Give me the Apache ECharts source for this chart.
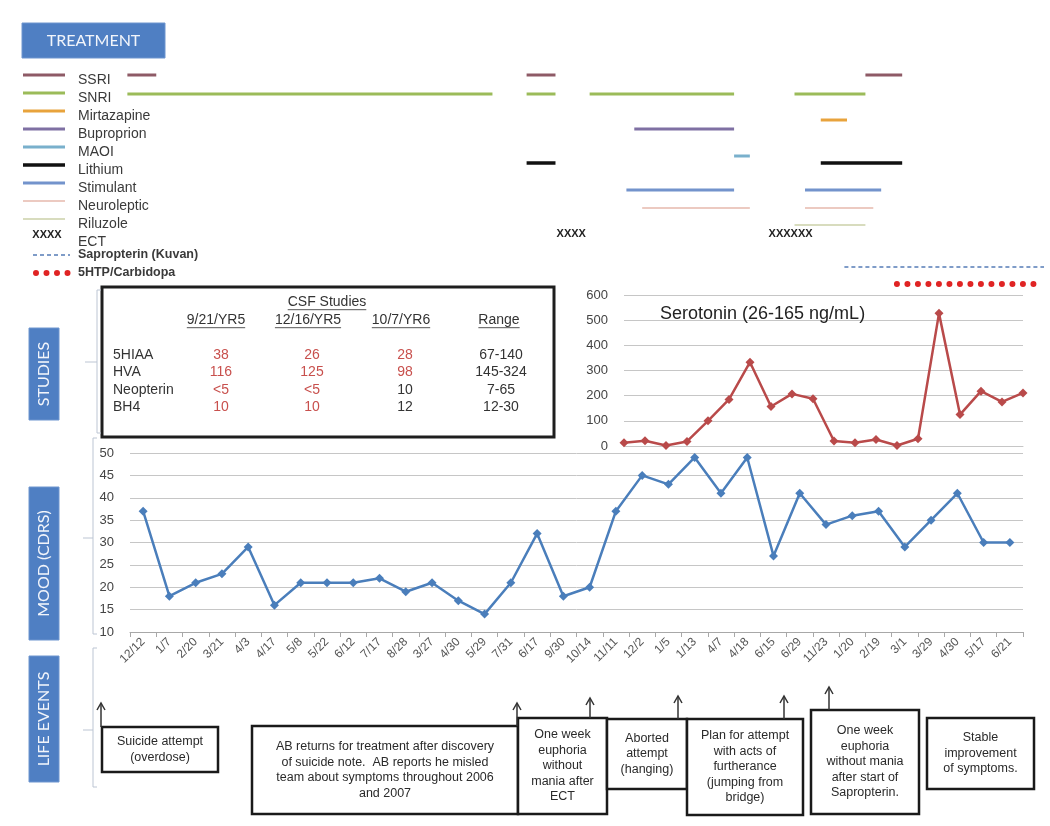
<!DOCTYPE html>
<html>
<head>
<meta charset="utf-8">
<title>Treatment, CSF studies, mood and life events</title>
<script src="https://cdn.jsdelivr.net/npm/echarts@6/dist/echarts.min.js"></script>
<style>
  html, body { margin: 0; padding: 0; background: #fff; }
  #chart { width: 1050px; height: 826px; }
</style>
</head>
<body>
<div id="chart"></div>
<script>
// ---- mood (CDRS) visits ----
const visitDates = ['12/12', '1/7', '2/20', '3/21', '4/3', '4/17', '5/8', '5/22', '6/12', '7/17', '8/28', '3/27', '4/30', '5/29', '7/31', '6/17', '9/30', '10/14', '11/11', '12/2', '1/5', '1/13', '4/7', '4/18', '6/15', '6/29', '11/23', '1/20', '2/19', '3/1', '3/29', '4/30', '5/17', '6/21']
const moodScores = [37, 18, 21, 23, 29, 16, 21, 21, 21, 22, 19, 21, 17, 14, 21, 32, 18, 20, 37, 45, 43, 49, 41, 49, 27, 41, 34, 36, 37, 29, 35, 41, 30, 30]
const moodRange = [10, 50]
const moodStep = 5

// ---- serotonin draws ----
const serotoninDraws = ['S1', 'S2', 'S3', 'S4', 'S5', 'S6', 'S7', 'S8', 'S9', 'S10', 'S11', 'S12', 'S13', 'S14', 'S15', 'S16', 'S17', 'S18', 'S19', 'S20']
const serotoninLevels = [13, 21, 2, 18, 100, 185, 333, 157, 207, 188, 20, 13, 26, 2, 29, 527, 125, 218, 175, 211]
const serotoninRange = [0, 600]
const serotoninStep = 100
const serotoninTitle = 'Serotonin (26-165 ng/mL)'

// ---- treatments: periods in units of visit index ----
const treatmentNames = ['SSRI', 'SNRI', 'Mirtazapine', 'Buproprion', 'MAOI', 'Lithium', 'Stimulant', 'Neuroleptic', 'Riluzole', 'ECT', 'Sapropterin (Kuvan)', '5HTP/Carbidopa']
const ssriOn = [[-0.6, 0.5], [14.6, 15.7], [27.5, 28.9]]
const snriOn = [[-0.6, 13.3], [14.6, 15.7], [17.0, 22.5], [24.8, 27.5]]
const mirtazapineOn = [[25.8, 26.8]]
const buproprionOn = [[18.7, 22.5]]
const maoiOn = [[22.5, 23.1]]
const lithiumOn = [[14.6, 15.7], [25.8, 28.9]]
const stimulantOn = [[18.4, 22.5], [25.2, 28.1]]
const neurolepticOn = [[19.0, 23.1], [25.2, 27.8]]
const riluzoleOn = [[24.8, 27.5]]
const ectOn = [[15.7, 16.9], [24.3, 25.0]]
const ectMarks = ['XXXX', 'XXXXXX']
const sapropterinOn = [[26.7, 34.3]]
const htpOn = [[28.7, 34.2]]
const treatmentPeriods = [ssriOn, snriOn, mirtazapineOn, buproprionOn, maoiOn, lithiumOn, stimulantOn, neurolepticOn, riluzoleOn, ectOn, sapropterinOn, htpOn]

// ---- CSF studies ----
const csfDates = ['9/21/YR5', '12/16/YR5', '10/7/YR6']
const csfAnalytes = ['5HIAA', 'HVA', 'Neopterin', 'BH4']
const csf5hiaa = ['38', '26', '28']
const csfHva = ['116', '125', '98']
const csfNeopterin = ['<5', '<5', '10']
const csfBh4 = ['10', '10', '12']
const csfRanges = ['67-140', '145-324', '7-65', '12-30']
const csfValues = [csf5hiaa, csfHva, csfNeopterin, csfBh4]

// ---- life events ----
const lifeEvents = [
  'Suicide attempt\n(overdose)',
  'AB returns for treatment after discovery\nof suicide note.  AB reports he misled\nteam about symptoms throughout 2006\nand 2007',
  'One week\neuphoria\nwithout\nmania after\nECT',
  'Aborted\nattempt\n(hanging)',
  'Plan for attempt\nwith acts of\nfurtherance\n(jumping from\nbridge)',
  'One week\neuphoria\nwithout mania\nafter start of\nSapropterin.',
  'Stable\nimprovement\nof symptoms.'
]
const sectionTitles = ['TREATMENT', 'STUDIES', 'MOOD (CDRS)', 'LIFE EVENTS']

// ---- styling / layout ----
const FONT = '"Liberation Sans", Arial, sans-serif'
const BOXFONT = 'Lato, "Open Sans", sans-serif'
const treatmentColors = ['#8e5a66', '#9bbb59', '#e8a33c', '#7f70a3', '#79b0cc', '#111111', '#7393cc', '#e6b9ad', '#cbd1a9', '#222222', '#7f9cc8', '#e02424']
const treatmentWidths = [3, 3, 3, 3, 3, 3.5, 3, 1.5, 1.5, 0, 2, 6]
const treatmentDash = [null, null, null, null, null, null, null, null, null, null, [4, 3], [0, 10.5]]
// bars in the source sit a little below their legend row for some drugs (px)
const treatmentBarShift = [0, 1, 9, 0, 9, -2, 7, 7, 6, -3, 12, 11]
const ECT_ROW = 9
const rowTop = 75
const rowGap = 18

const sectionBoxes = [
  { x: 22, y: 23, w: 143, h: 35, rot: 0 },
  { x: 29, y: 328, w: 30, h: 92, rot: Math.PI / 2 },
  { x: 29, y: 487, w: 30, h: 153, rot: Math.PI / 2 },
  { x: 29, y: 656, w: 30, h: 126, rot: Math.PI / 2 }
]
const eventBoxes = [
  { x: 102, y: 727, w: 116, h: 45 },
  { x: 252, y: 726, w: 266, h: 88 },
  { x: 518, y: 718, w: 89, h: 96 },
  { x: 607, y: 719, w: 80, h: 70 },
  { x: 687, y: 719, w: 116, h: 96 },
  { x: 811, y: 710, w: 108, h: 104 },
  { x: 927, y: 718, w: 107, h: 71 }
]
const eventArrows = [
  { x: 101, top: 703, base: 727 },
  { x: 517, top: 703, base: 726 },
  { x: 590, top: 698, base: 718 },
  { x: 678, top: 696, base: 719 },
  { x: 784, top: 696, base: 719 },
  { x: 829, top: 687, base: 710 }
]

const measureCtx = document.createElement('canvas').getContext('2d')
function textWidth (str, font) {
  measureCtx.font = font
  return measureCtx.measureText(str).width
}

const graphics = []
function text (x, y, str, o) {
  o = o || {}
  graphics.push({
    type: 'text',
    x: x,
    y: y,
    rotation: o.rotation || 0,
    z: 20,
    silent: true,
    style: {
      text: str,
      fill: o.color || '#333',
      fontSize: o.size || 14,
      fontFamily: o.family || FONT,
      fontWeight: o.weight || 'normal',
      lineHeight: o.lineHeight,
      textAlign: o.align || 'left',
      textVerticalAlign: 'middle'
    }
  })
}
function line (x1, y1, x2, y2, color, width, dash, cap) {
  graphics.push({
    type: 'line',
    z: 20,
    silent: true,
    shape: { x1: x1, y1: y1, x2: x2, y2: y2 },
    style: { stroke: color, lineWidth: width, lineDash: dash || null, lineCap: cap || 'butt' }
  })
}
function polyline (points, color, width) {
  graphics.push({
    type: 'polyline',
    z: 20,
    silent: true,
    shape: { points: points },
    style: { stroke: color, lineWidth: width, fill: null }
  })
}
function rect (x, y, w, h, fill, stroke, width) {
  graphics.push({
    type: 'rect',
    z: 15,
    silent: true,
    shape: { x: x, y: y, width: w, height: h },
    style: { fill: fill, stroke: stroke || null, lineWidth: width || 0 }
  })
}

// section labels
sectionTitles.forEach(function (t, i) {
  const b = sectionBoxes[i]
  rect(b.x, b.y, b.w, b.h, '#4f7fc3', '#6f96cf', 1)
  text(b.x + b.w / 2, b.y + b.h / 2, t, { color: '#f2f5fb', size: 16, family: BOXFONT, align: 'center', rotation: b.rot })
})

// brackets on the left of each panel
const bracketColor = '#bcc5d3'
polyline([[101, 290], [97, 290], [97, 433], [101, 433]], bracketColor, 1)
line(85, 362, 97, 362, bracketColor, 1)
polyline([[97, 438], [93, 438], [93, 634], [97, 634]], bracketColor, 1)
line(83, 538, 93, 538, bracketColor, 1)
polyline([[97, 648], [93, 648], [93, 787], [97, 787]], bracketColor, 1)
line(83, 730, 93, 730, bracketColor, 1)

// treatment legend
treatmentNames.forEach(function (name, i) {
  const y = rowTop + rowGap * i
  const c = treatmentColors[i]
  if (i === ECT_ROW) {
    text(47, y - 2, ectMarks[0], { size: 11, weight: 'bold', color: '#222', align: 'center' })
  } else if (i === 10) {
    line(33, y, 70, y, c, 2, [4, 3])
  } else if (i === 11) {
    line(36, y, 70, y, c, 6, [0, 10.5], 'round')
  } else {
    line(23, y, 65, y, c, treatmentWidths[i])
  }
  const bold = i >= 10
  text(78, bold ? y : y + 5, name, { size: bold ? 12.5 : 14, weight: bold ? 'bold' : 'normal', color: '#3a3a3a' })
})

// CSF studies table
rect(102, 287, 452, 150, '#ffffff', '#1e1e1e', 3)
function underlined (cx, y, str, size) {
  const f = size + 'px ' + FONT
  const w = textWidth(str, f)
  text(cx, y, str, { size: size, align: 'center', color: '#333' })
  line(cx - w / 2, y + size * 0.55, cx + w / 2, y + size * 0.55, '#555', 1)
}
underlined(327, 302, 'CSF Studies', 14)
const headerX = [216, 308, 401]
csfDates.forEach(function (d, j) { underlined(headerX[j], 320, d, 14) })
underlined(499, 320, 'Range', 14)
const rowY = [355, 372, 390, 407]
const valueX = [221, 312, 405]
csfAnalytes.forEach(function (a, r) {
  text(113, rowY[r], a, { size: 14, color: '#333' })
  const low = parseFloat(csfRanges[r].split('-')[0])
  csfValues[r].forEach(function (v, j) {
    const num = parseFloat(v.replace('<', ''))
    const isLow = v.indexOf('<') === 0 || num < low
    text(valueX[j], rowY[r], v, { size: 14, align: 'center', color: isLow ? '#c8504d' : '#333' })
  })
  text(501, rowY[r], csfRanges[r], { size: 14, align: 'center', color: '#333' })
})

// life events
eventBoxes.forEach(function (b, i) {
  rect(b.x, b.y, b.w, b.h, '#ffffff', '#1a1a1a', 2.5)
  text(b.x + b.w / 2, b.y + b.h / 2, lifeEvents[i], { size: 12.5, lineHeight: 15.5, align: 'center', color: '#2a2a2a' })
})
eventArrows.forEach(function (a) {
  line(a.x, a.base, a.x, a.top, '#333', 1.5)
  polyline([[a.x - 4, a.top + 7], [a.x, a.top], [a.x + 4, a.top + 7]], '#333', 1.5)
})

// treatment periods -> custom series data [row, start, end, k]
const treatmentData = []
treatmentPeriods.forEach(function (periods, row) {
  periods.forEach(function (p, k) { treatmentData.push([row, p[0], p[1], k]) })
})

function renderTreatment (params, api) {
  const row = api.value(0)
  const a = api.coord([api.value(1), row])
  const b = api.coord([api.value(2), row])
  const y = a[1] + treatmentBarShift[row]
  if (row === ECT_ROW) {
    return {
      type: 'text',
      x: (a[0] + b[0]) / 2,
      y: y,
      style: { text: ectMarks[api.value(3)], fill: '#222', fontSize: 11, fontWeight: 'bold', fontFamily: FONT, textAlign: 'center', textVerticalAlign: 'middle' }
    }
  }
  return {
    type: 'line',
    shape: { x1: a[0], y1: y, x2: b[0], y2: y },
    style: {
      stroke: treatmentColors[row],
      lineWidth: treatmentWidths[row],
      lineDash: treatmentDash[row],
      lineCap: row === 11 ? 'round' : 'butt'
    }
  }
}

const gridLine = { show: true, lineStyle: { color: '#c6c6c6', width: 1 } }

const chart = echarts.init(document.getElementById('chart'))
chart.setOption({
  animation: false,
  backgroundColor: '#ffffff',
  textStyle: { fontFamily: FONT },
  title: {
    text: serotoninTitle,
    left: 655,
    top: 300,
    textStyle: { fontSize: 18, fontWeight: 'normal', color: '#222', fontFamily: FONT }
  },
  grid: [
    { left: 130, right: 27, top: 66, height: 216 },
    { left: 130, right: 27, top: 453, bottom: 194 },
    { left: 624, right: 27, top: 295, height: 151 }
  ],
  xAxis: [
    { gridIndex: 0, type: 'value', min: -0.5, max: 33.5, show: false },
    {
      gridIndex: 1,
      type: 'category',
      data: visitDates,
      boundaryGap: true,
      axisLine: { lineStyle: { color: '#a8a8a8' } },
      axisTick: { show: true, interval: 0, length: 5, lineStyle: { color: '#a8a8a8' } },
      axisLabel: { interval: 0, rotate: 45, margin: 8, fontSize: 12, color: '#555', fontFamily: FONT }
    },
    {
      gridIndex: 2,
      type: 'category',
      data: serotoninDraws,
      boundaryGap: false,
      axisLine: { lineStyle: { color: '#c6c6c6' } },
      axisTick: { show: false },
      axisLabel: { show: false }
    }
  ],
  yAxis: [
    { gridIndex: 0, type: 'category', data: treatmentNames, inverse: true, show: false },
    {
      gridIndex: 1,
      type: 'value',
      min: moodRange[0],
      max: moodRange[1],
      interval: moodStep,
      axisLine: { show: false },
      axisTick: { show: false },
      axisLabel: { margin: 16, fontSize: 13, color: '#444', fontFamily: FONT },
      splitLine: gridLine
    },
    {
      gridIndex: 2,
      type: 'value',
      min: serotoninRange[0],
      max: serotoninRange[1],
      interval: serotoninStep,
      axisLine: { show: false },
      axisTick: { show: false },
      axisLabel: { margin: 16, fontSize: 13, color: '#444', fontFamily: FONT },
      splitLine: gridLine
    }
  ],
  series: [
    {
      name: 'Treatment',
      type: 'custom',
      xAxisIndex: 0,
      yAxisIndex: 0,
      clip: false,
      renderItem: renderTreatment,
      data: treatmentData
    },
    {
      name: 'Mood (CDRS)',
      type: 'line',
      xAxisIndex: 1,
      yAxisIndex: 1,
      data: moodScores,
      symbol: 'diamond',
      symbolSize: 9,
      lineStyle: { color: '#4a7ebb', width: 2.5 },
      itemStyle: { color: '#4a7ebb' }
    },
    {
      name: 'Serotonin',
      type: 'line',
      xAxisIndex: 2,
      yAxisIndex: 2,
      data: serotoninLevels,
      symbol: 'diamond',
      symbolSize: 9,
      z: 5,
      lineStyle: { color: '#b94a4a', width: 2.5 },
      itemStyle: { color: '#b94a4a' }
    }
  ],
  graphic: graphics
})
</script>
</body>
</html>
